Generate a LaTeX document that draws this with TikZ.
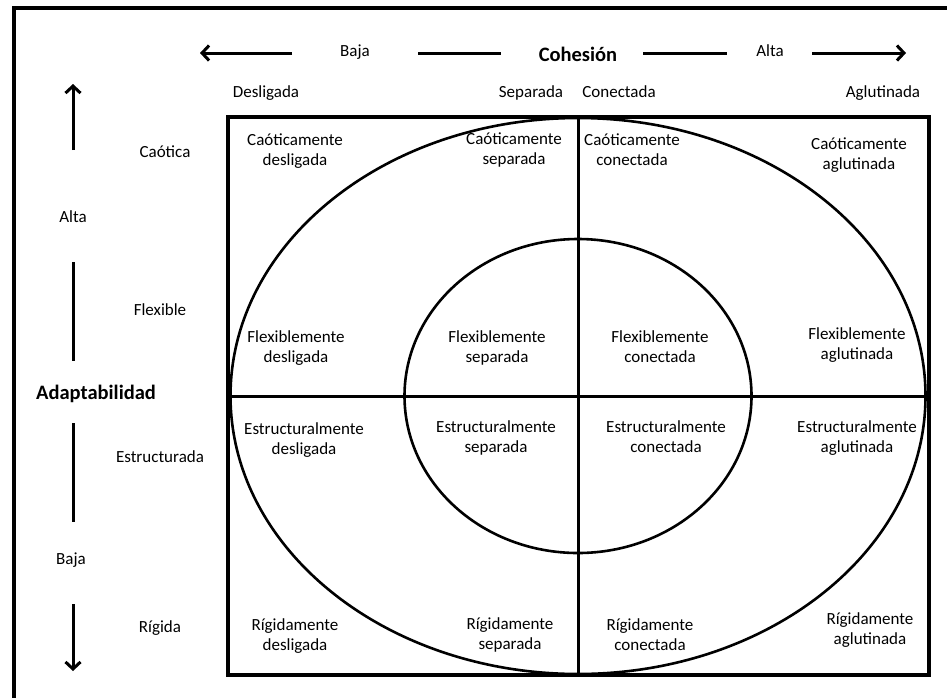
\documentclass[tikz,border=0pt]{standalone}
\usepackage{fontspec}
\setmainfont{Carlito}
\usetikzlibrary{arrows.meta}
\tikzset{
    %Define standard arrow tip
    >={Straight Barb[length=7pt,width=15pt]},
    %Define style for the texts
    etiq/.style={
           font=\fontsize{17}{20}\selectfont,
           align=center,
           inner sep=0pt,
           execute at begin node=\strut,
           execute at end node=\strut},
    titulo/.style={
           font=\fontsize{20.5}{24}\selectfont\bfseries,
           inner sep=0pt},
    % Define line styles
    eje/.style={line width=3pt},
    linea/.style={line width=2.6pt},
    marco/.style={line width=3.6pt}
}
\begin{document}
\begin{tikzpicture}[x=1pt,y=-1pt]
    \useasboundingbox (0,0) rectangle (947,697);
    \draw[marco] (14,8) rectangle (970,720);
    % axis of cohesion
    \node (cbaja) [etiq] at (355,52) {Baja};
    \node (cohesion) [titulo] at (578,54) {Cohesión};
    \node (calta) [etiq] at (770,52) {Alta};
    \coordinate (cizq) at (200,53);
    \coordinate (cder) at (906,53);
    \coordinate (c1) at (292,53);
    \coordinate (c2) at (418,53);
    \coordinate (c3) at (501,53);
    \coordinate (c4) at (643,53);
    \coordinate (c5) at (727,53);
    \coordinate (c6) at (812,53);
    \draw[eje,->] (c1) -- (cizq);
    \draw[eje] (c2) -- (c3);
    \draw[eje] (c4) -- (c5);
    \draw[eje,->] (c6) -- (cder);
    \node (desligada) [etiq] at (266,93) {Desligada};
    \node (separada) [etiq] at (531,93) {Separada};
    \node (conectada) [etiq] at (619,93) {Conectada};
    \node (aglutinada) [etiq] at (883,93) {Aglutinada};
    % axis of adaptability
    \node (aalta) [etiq] at (73,218) {Alta};
    \node (adapt) [titulo] at (96,394) {Adaptabilidad};
    \node (abaja) [etiq] at (71,560) {Baja};
    \coordinate (a0) at (73,84);
    \coordinate (a1) at (73,150);
    \coordinate (a2) at (73,262);
    \coordinate (a3) at (73,361);
    \coordinate (a4) at (73,423);
    \coordinate (a5) at (73,522);
    \coordinate (a6) at (73,604);
    \coordinate (a7) at (73,671);
    \draw[eje,->] (a1) -- (a0);
    \draw[eje] (a2) -- (a3);
    \draw[eje] (a4) -- (a5);
    \draw[eje,->] (a6) -- (a7);
    \node (caotica) [etiq] at (165,153) {Caótica};
    \node (flexible) [etiq] at (160,311) {Flexible};
    \node (estruct) [etiq] at (160,458) {Estructurada};
    \node (rigida) [etiq] at (160,628) {Rígida};
    % the grid and the two ellipses
    \coordinate (centro) at (578,396);
    \draw[linea] (centro) ellipse [x radius=347.5, y radius=278];
    \draw[linea] (centro) ellipse [x radius=173.5, y radius=157];
    \draw[marco,line width=3.2pt] (228,117) rectangle (929,675);
    \draw[linea,line width=3pt] (578,117) -- (578,675);
    \draw[linea,line width=3pt] (228,396) -- (929,396);
    % the sixteen cells
    \node (cdes) [etiq] at (295,153) {Caóticamente\\desligada};
    \node (csep) [etiq] at (514,152) {Caóticamente\\separada};
    \node (ccon) [etiq] at (632,153) {Caóticamente\\conectada};
    \node (cagl) [etiq] at (859,157) {Caóticamente\\aglutinada};
    \node (fdes) [etiq] at (296,350) {Flexiblemente\\desligada};
    \node (fsep) [etiq] at (497,350) {Flexiblemente\\separada};
    \node (fcon) [etiq] at (660,350) {Flexiblemente\\conectada};
    \node (fagl) [etiq] at (857,347) {Flexiblemente\\aglutinada};
    \node (edes) [etiq] at (304,442) {Estructuralmente\\desligada};
    \node (esep) [etiq] at (496,440) {Estructuralmente\\separada};
    \node (econ) [etiq] at (666,440) {Estructuralmente\\conectada};
    \node (eagl) [etiq] at (857,440) {Estructuralmente\\aglutinada};
    \node (rdes) [etiq] at (295,638) {Rígidamente\\desligada};
    \node (rsep) [etiq] at (510,637) {Rígidamente\\separada};
    \node (rcon) [etiq] at (650,638) {Rígidamente\\conectada};
    \node (ragl) [etiq] at (870,632) {Rígidamente\\aglutinada};
\end{tikzpicture}
\end{document}
